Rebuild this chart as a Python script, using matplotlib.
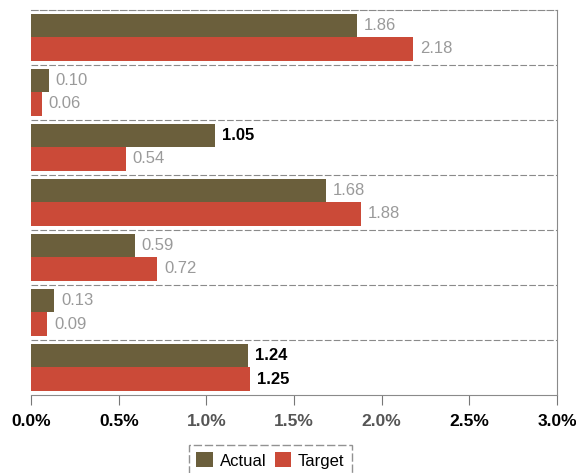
import numpy as np
import matplotlib.pyplot as plt
from matplotlib.ticker import FuncFormatter

plt.rcParams['font.family'] = ['Liberation Sans', 'DejaVu Sans']

# values in percent, top group first
actual = [1.86, 0.10, 1.05, 1.68, 0.59, 0.13, 1.24]
target = [2.18, 0.06, 0.54, 1.88, 0.72, 0.09, 1.25]
# some of the printed labels come out dark, the rest faded grey
actual_dark = [False, False, True, False, False, False, True]
target_dark = [False, False, False, False, False, False, True]
xticks = [0.0, 0.5, 1.0, 1.5, 2.0, 2.5, 3.0]
xtick_dark = [True, True, False, False, False, True, True]

c_actual = '#6b5f3c'
c_target = '#cb4a38'

fig = plt.figure(figsize=(5.76, 4.73), dpi=100)
ax = fig.add_axes([0.054, 0.165, 0.913, 0.814])

n = len(actual)
y = np.arange(n)
h = 0.42
ax.barh(y - h / 2, actual, height=h, color=c_actual, label='Actual')
ax.barh(y + h / 2, target, height=h, color=c_target, label='Target')
ax.set_ylim(n - 0.5, -0.5)
ax.set_xlim(0, 3.0)

for i in range(n):
    ax.text(actual[i] + 0.04, y[i] - h / 2, f'{actual[i]:.2f}', va='center', ha='left',
            fontsize=12, color='black' if actual_dark[i] else '#9a9a9a',
            fontweight='bold' if actual_dark[i] else 'normal')
    ax.text(target[i] + 0.04, y[i] + h / 2, f'{target[i]:.2f}', va='center', ha='left',
            fontsize=12, color='black' if target_dark[i] else '#9a9a9a',
            fontweight='bold' if target_dark[i] else 'normal')

# dashed separators between groups
for b in np.arange(0.5, n - 0.5, 1):
    ax.axhline(b, color='#8a8a8a', lw=0.8, ls=(0, (6, 2)))

ax.set_yticks([])
ax.set_xticks(xticks)
ax.xaxis.set_major_formatter(FuncFormatter(lambda v, p: f'{v:.1f}%'))
ax.tick_params(axis='x', length=7, color='#777777', pad=7, labelsize=12.5)
for lab, dark in zip(ax.get_xticklabels(), xtick_dark):
    lab.set_fontweight('bold')
    lab.set_color('black' if dark else '#555555')

ax.spines['left'].set_visible(False)
for s in ['top', 'right', 'bottom']:
    ax.spines[s].set_color('#8a8a8a')
    ax.spines[s].set_linewidth(0.8)
ax.spines['top'].set_linestyle((0, (6, 2)))

leg = ax.legend(loc='upper center', bbox_to_anchor=(0.455, -0.108), ncol=2,
                frameon=True, fancybox=False, fontsize=12, handlelength=1.0,
                handleheight=1.0, columnspacing=0.5, handletextpad=0.4,
                borderpad=0.45)
leg.get_frame().set_edgecolor('#777777')
leg.get_frame().set_linestyle((0, (6, 2)))

fig.savefig('out.png', dpi=100)
